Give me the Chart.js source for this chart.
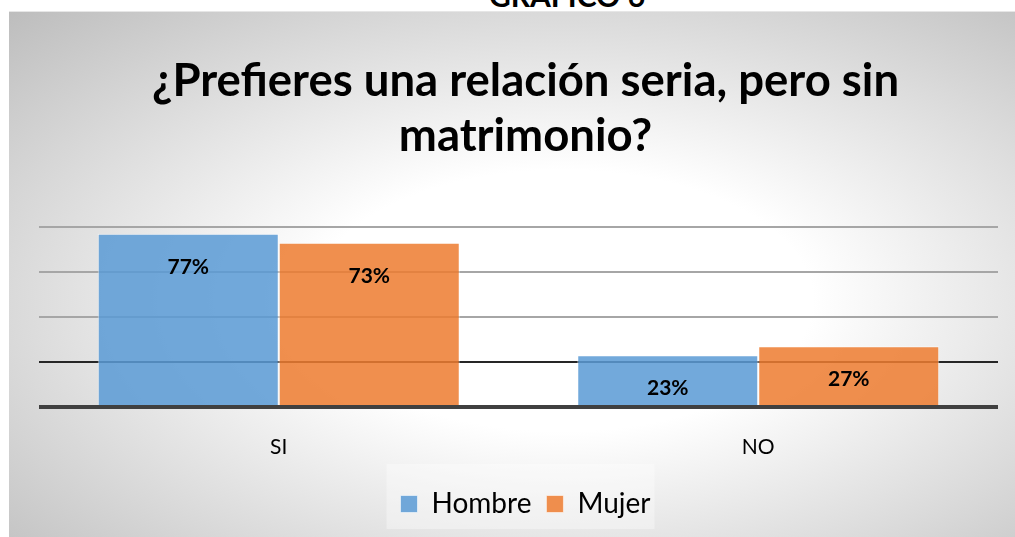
<!DOCTYPE html>
<html><head><meta charset="utf-8">
<script src="https://cdn.jsdelivr.net/npm/chart.js@4.4.1/dist/chart.umd.min.js"></script>
<style>
html,body{margin:0;padding:0;background:#fff;width:1015px;height:537px;overflow:hidden;position:relative}
#cap{position:absolute;left:0;width:1134px;top:-20px;text-align:center;font:bold 30px Lato;line-height:30px;color:#000;white-space:nowrap}
#box{position:absolute;left:9px;top:11px;width:1006px;height:526px;
 background:radial-gradient(ellipse farthest-corner at 55% 55%, #ffffff 0%, #ffffff 32%, #bdbdbd 100%);
 border-top:1px solid #e6e6e6;box-sizing:border-box}
canvas{display:block}
</style></head>
<body>
<div id="cap">GRÁFICO 6</div>
<div id="box"><canvas id="c" width="1006" height="526"></canvas></div>
<script>
const categories = ['SI', 'NO'];
const seriesNames = ['Hombre', 'Mujer'];
const hombre = [0.77, 0.23];
const mujer = [0.73, 0.27];
const titleLines = ['¿Prefieres una relación seria, pero sin', 'matrimonio?'];
const yTicks = [0, 0.2, 0.4, 0.6, 0.8];

const FONT = 'Lato';

const valueLabels = {
  id: 'valueLabels',
  afterDatasetsDraw(chart) {
    const ctx = chart.ctx;
    ctx.save();
    ctx.font = 'bold 21px ' + FONT;
    ctx.fillStyle = '#000';
    ctx.textAlign = 'center';
    ctx.textBaseline = 'middle';
    chart.data.datasets.forEach((ds, i) => {
      chart.getDatasetMeta(i).data.forEach((bar, j) => {
        ctx.fillText(Math.round(ds.data[j] * 100) + '%', bar.x, bar.y + 33);
      });
    });
    ctx.restore();
  }
};

const legendBg = {
  id: 'legendBg',
  beforeDraw(chart) {
    const hb = chart.legend && chart.legend.legendHitBoxes;
    if (!hb || !hb.length) return;
    const l = hb[0].left - 14;
    const r = hb[hb.length - 1].left + hb[hb.length - 1].width + 4;
    const t = hb[0].top - 26;
    const b = hb[0].top + hb[0].height + 11;
    const ctx = chart.ctx;
    ctx.save();
    ctx.fillStyle = 'rgba(255,255,255,0.35)';
    ctx.fillRect(l, t, r - l, b - t);
    ctx.restore();
  }
};

new Chart(document.getElementById('c'), {
  type: 'bar',
  data: {
    labels: categories,
    datasets: [
      { label: seriesNames[0], data: hombre, backgroundColor: 'rgba(91,155,213,0.86)', borderColor: 'rgba(255,255,255,0.55)', borderWidth: 1 },
      { label: seriesNames[1], data: mujer, backgroundColor: 'rgba(237,125,49,0.86)', borderColor: 'rgba(255,255,255,0.55)', borderWidth: 1 }
    ]
  },
  options: {
    responsive: false,
    animation: false,
    devicePixelRatio: 1,
    datasets: { bar: { categoryPercentage: 0.755, barPercentage: 1 } },
    layout: { padding: { left: 30, right: 3, top: 0, bottom: 10 } },
    plugins: {
      title: {
        display: true,
        text: titleLines,
        color: '#000',
        font: { family: FONT, size: 45.5, weight: 'bold', lineHeight: 55 / 45.5 },
        padding: { top: 41.5, bottom: 63.5 }
      },
      legend: {
        position: 'bottom',
        labels: {
          color: '#000',
          font: { family: FONT, size: 28 },
          boxWidth: 17, boxHeight: 17, padding: 15
        }
      },
      tooltip: { enabled: false }
    },
    scales: {
      x: {
        grid: { display: false, drawTicks: false },
        border: { display: false },
        ticks: { color: '#000', font: { family: FONT, size: 21 }, padding: 28 },
        afterFit(s) { s.height = 68; }
      },
      y: {
        min: 0, max: 0.8,
        afterBuildTicks(s) { s.ticks = yTicks.map(v => ({ value: v })); },
        ticks: { display: false },
        border: { display: false },
        grid: {
          drawTicks: false,
          color: c => c.tick.value === 0 ? '#404040' : (Math.abs(c.tick.value - 0.2) < 1e-9 ? '#262626' : '#a6a6a6'),
          lineWidth: c => c.tick.value === 0 ? 4 : 2
        },
        afterFit(s) { s.width = 0; }
      },
      yRight: {
        position: 'right',
        min: 0, max: 0.8,
        ticks: { display: false },
        border: { display: false },
        grid: { display: false, drawTicks: false },
        afterFit(s) { s.width = 14; }
      }
    }
  },
  plugins: [legendBg, valueLabels]
});
</script>
</body></html>
